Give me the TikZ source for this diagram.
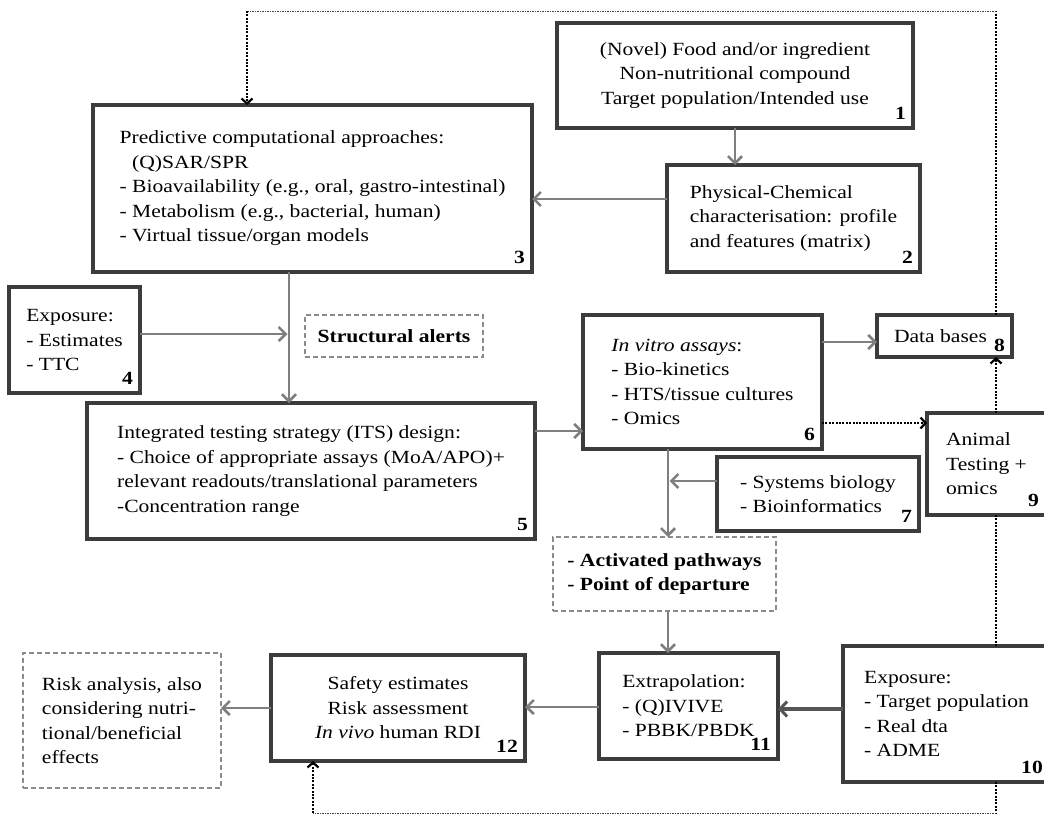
\documentclass[tikz,border=0pt]{standalone}
\usepackage{fontspec}
\setmainfont{Liberation Serif}[FakeStretch=1.16]
\usetikzlibrary{arrows.meta}
\definecolor{boxline}{HTML}{3C3C3C}
\definecolor{flow}{HTML}{7F7F7F}
\definecolor{flowdark}{HTML}{555555}
\definecolor{alert}{HTML}{8C8C8C}
\begin{document}
\begin{tikzpicture}[x=1pt,y=-1pt,
  font=\fontsize{18.6}{24.5}\selectfont,
  box/.style={draw=boxline, line width=3.6pt, fill=white, align=left, inner sep=0pt, outer sep=0pt},
  alertbox/.style={draw=alert, line width=1.8pt, dash pattern=on 5pt off 3pt, align=left, inner sep=0pt, outer sep=0pt},
  num/.style={font=\fontsize{18.6}{24.5}\selectfont\bfseries, inner sep=0pt, anchor=south east, xshift=-7pt, yshift=8pt},
  flowarrow/.style={draw=flow, line width=2.2pt, -{Straight Barb[length=7pt,width=14pt,line width=2.6pt]}},
  strongarrow/.style={draw=flowdark, line width=3.4pt, -{Straight Barb[length=7pt,width=15pt,line width=3pt]}},
  dotv/.style={draw=black, line width=2.3pt, dash pattern=on 2pt off 1.4pt},
  doth/.style={draw=black!75, line width=1pt, dash pattern=on 1.2pt off 1.3pt},
  dottip/.style={-{Straight Barb[length=5pt,width=11pt,line width=2.2pt]}}
]
\useasboundingbox (0,0) rectangle (1044,814);
\fill[white] (0,0) rectangle (1044,814);

% lanes used by the connectors
\coordinate (y23) at (0,199);
\coordinate (x35) at (289,0);
\coordinate (y4) at (0,334);
\coordinate (y56) at (0,431);
\coordinate (y68) at (0,342);
\coordinate (y69) at (0,423);
\coordinate (x6) at (668,0);
\coordinate (y7) at (0,481);
\coordinate (y1011) at (0,709);
\coordinate (y1112) at (0,707);
\coordinate (y12r) at (0,708);
\coordinate (xr) at (996,0);
\coordinate (xl) at (247,0);
\coordinate (x12) at (313,0);
\coordinate (ytop) at (0,11);
\coordinate (ybot) at (0,813);

% boxes
\node[box, align=center, minimum width=356pt, minimum height=105pt] (b1) at (735,75.5)
  {(Novel) Food and/or ingredient\\Non-nutritional compound\\Target population/Intended use};
\node[box, minimum width=253pt, minimum height=107pt] (b2) at (793.5,218.5)
  {Physical-Chemical\\characterisation: profile\\and features (matrix)};
\node[box, minimum width=439pt, minimum height=167pt] (b3) at (312.5,188.5)
  {Predictive computational approaches:\\\hphantom{- }(Q)SAR/SPR\\- Bioavailability (e.g., oral, gastro-intestinal)\\- Metabolism (e.g., bacterial, human)\\- Virtual tissue/organ models};
\node[box, minimum width=131pt, minimum height=106pt] (b4) at (74.5,340)
  {Exposure:\\- Estimates\\- TTC};
\node[alertbox, minimum width=178pt, minimum height=42pt, font=\fontsize{18.6}{24.5}\selectfont\bfseries] (sa) at (394,336)
  {Structural alerts};
\node[box, minimum width=448pt, minimum height=136pt] (b5) at (311,471)
  {Integrated testing strategy (ITS) design:\\- Choice of appropriate assays (MoA/APO)+\\relevant readouts/translational parameters\\-Concentration range};
\node[box, minimum width=239pt, minimum height=134pt] (b6) at (702.5,382)
  {\textit{In vitro assays}:\\- Bio-kinetics\\- HTS/tissue cultures\\- Omics};
\node[box, minimum width=135pt, minimum height=42pt] (b8) at (944.5,336)
  {Data bases\hspace{8pt}};
\node[box, minimum width=119pt, minimum height=102pt] (b9) at (986.5,464)
  {Animal\\Testing +\\omics};
\node[box, minimum width=202pt, minimum height=74pt] (b7) at (818,494)
  {- Systems biology\\- Bioinformatics};
\node[alertbox, minimum width=223pt, minimum height=74pt, font=\fontsize{18.6}{24.5}\selectfont\bfseries] (ap) at (664.5,574)
  {- Activated pathways\\- Point of departure};
\node[box, minimum width=179pt, minimum height=106pt] (b11) at (688.5,706)
  {Extrapolation:\\- (Q)IVIVE\\- PBBK/PBDK};
\node[box, minimum width=207pt, minimum height=136pt] (b10) at (946.5,714)
  {Exposure:\\- Target population\\- Real dta\\- ADME};
\node[box, align=center, minimum width=254pt, minimum height=106pt] (b12) at (398,708)
  {Safety estimates\\Risk assessment\\\textit{In vivo} human RDI};
\node[alertbox, minimum width=198pt, minimum height=135pt] (risk) at (122,720.5)
  {Risk analysis, also\\considering nutri-\\tional/beneficial\\effects};

% box numbers
\node[num] (n1) at (b1.south east) {1};
\node[num] (n2) at (b2.south east) {2};
\node[num] (n3) at (b3.south east) {3};
\node[num] (n4) at (b4.south east) {4};
\node[num] (n5) at (b5.south east) {5};
\node[num] (n6) at (b6.south east) {6};
\node[num] (n7) at (b7.south east) {7};
\node[num, yshift=-3pt] (n8) at (b8.south east) {8};
\node[num] (n9) at (b9.south east) {9};
\node[num] (n10) at (b10.south east) {10};
\node[num] (n11) at (b11.south east) {11};
\node[num] (n12) at (b12.south east) {12};

% main flow
\draw[flowarrow] (b1.south) -- (b1.south |- b2.north);
\draw[flowarrow] (b2.west |- y23) -- (b3.east |- y23);
\draw[flowarrow] (b3.south -| x35) -- (b5.north -| x35);
\draw[flowarrow, shorten >=1.5pt] (b4.east |- y4) -- (x35 |- y4);
\draw[flowarrow] (b5.east |- y56) -- (b6.west |- y56);
\draw[flowarrow] (b6.east |- y68) -- (b8.west |- y68);
\draw[flowarrow] (b6.south -| x6) -- (ap.north -| x6);
\draw[flowarrow, shorten >=1.5pt] (b7.west |- y7) -- (x6 |- y7);
\draw[flowarrow] (ap.south -| x6) -- (b11.north -| x6);
\draw[strongarrow] (b10.west |- y1011) -- (b11.east |- y1011);
\draw[flowarrow] (b11.west |- y1112) -- (b12.east |- y1112);
\draw[flowarrow] (b12.west |- y12r) -- (risk.east |- y12r);

% dotted feedback links
\draw[dotv, dottip] (b6.east |- y69) -- (b9.west |- y69);
\draw[dotv, dottip] (b9.north -| xr) -- (b8.south -| xr);
\draw[dotv] (b9.south -| xr) -- (b10.north -| xr);
\draw[dotv] (b8.north -| xr) -- (xr |- ytop);
\draw[doth] (xr |- ytop) -- (xl |- ytop);
\draw[dotv, dottip] (xl |- ytop) -- (b3.north -| xl);
\draw[dotv] (b10.south -| xr) -- (xr |- ybot);
\draw[doth] (xr |- ybot) -- (x12 |- ybot);
\draw[dotv, dottip] (x12 |- ybot) -- (b12.south -| x12);
\end{tikzpicture}
\end{document}
